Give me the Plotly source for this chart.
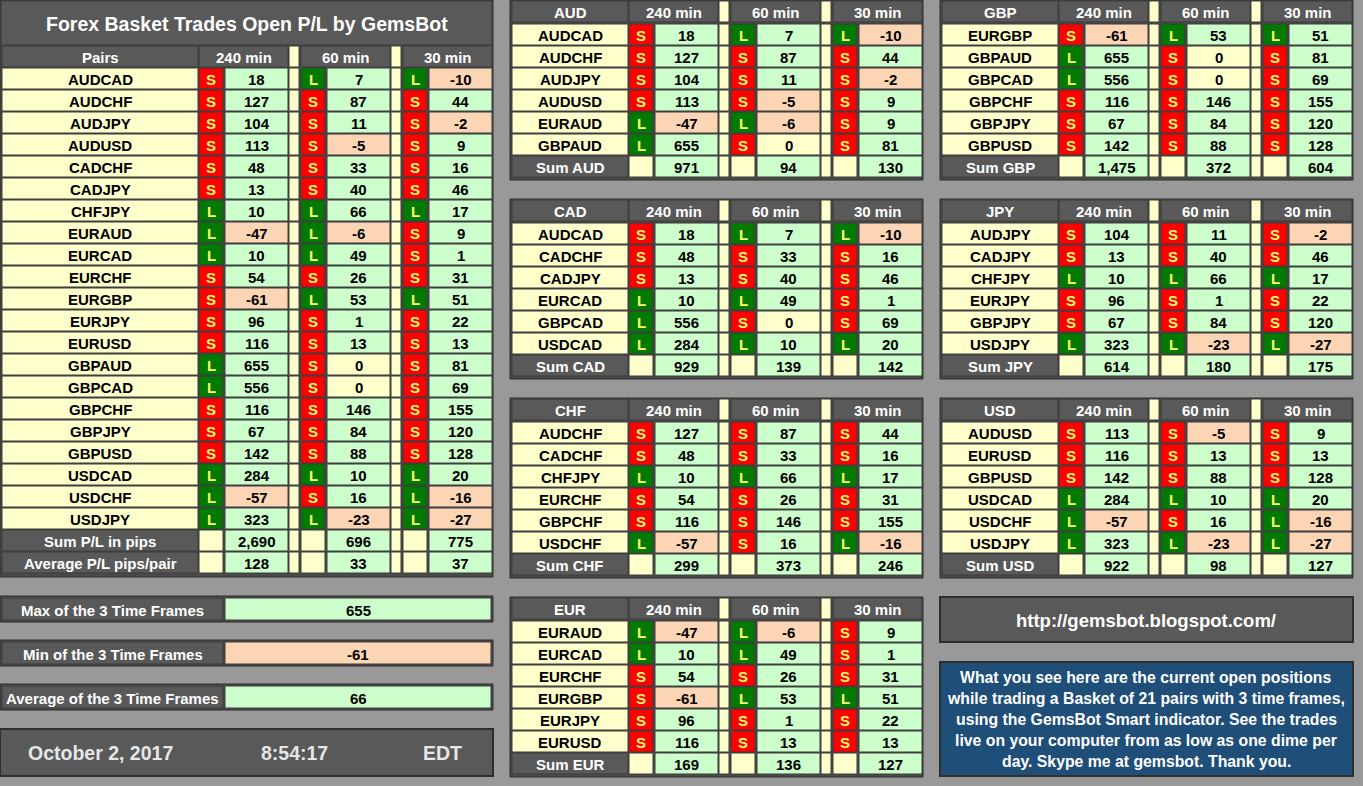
import plotly.graph_objects as go

pairs = ["AUDCAD","AUDCHF","AUDJPY","AUDUSD","CADCHF","CADJPY","CHFJPY","EURAUD","EURCAD","EURCHF",
         "EURGBP","EURJPY","EURUSD","GBPAUD","GBPCAD","GBPCHF","GBPJPY","GBPUSD","USDCAD","USDCHF","USDJPY"]
dir240 = ["S","S","S","S","S","S","L","L","L","S","S","S","S","L","L","S","S","S","L","L","L"]
val240 = [18,127,104,113,48,13,10,-47,10,54,-61,96,116,655,556,116,67,142,284,-57,323]
dir60  = ["L","S","S","S","S","S","L","L","L","S","L","S","S","S","S","S","S","S","L","S","L"]
val60  = [7,87,11,-5,33,40,66,-6,49,26,53,1,13,0,0,146,84,88,10,16,-23]
dir30  = ["L","S","S","S","S","S","L","S","S","S","L","S","S","S","S","S","S","S","L","L","L"]
val30  = [-10,44,-2,9,16,46,17,9,1,31,51,22,13,81,69,155,120,128,20,-16,-27]
sum_pl = ["2,690","696","775"]
avg_pl = [128,33,37]
max3, min3, avg3 = 655, -61, 66

currencies = ["AUD","CAD","CHF","EUR","GBP","JPY","USD"]
currency_sums = {
    "AUD": ["971","94","130"], "CAD": ["929","139","142"], "CHF": ["299","373","246"],
    "EUR": ["169","136","127"], "GBP": ["1,475","372","604"], "JPY": ["614","180","175"],
    "USD": ["922","98","127"],
}
currency_pairs = {
    "AUD": ["AUDCAD","AUDCHF","AUDJPY","AUDUSD","EURAUD","GBPAUD"],
    "CAD": ["AUDCAD","CADCHF","CADJPY","EURCAD","GBPCAD","USDCAD"],
    "CHF": ["AUDCHF","CADCHF","CHFJPY","EURCHF","GBPCHF","USDCHF"],
    "EUR": ["EURAUD","EURCAD","EURCHF","EURGBP","EURJPY","EURUSD"],
    "GBP": ["EURGBP","GBPAUD","GBPCAD","GBPCHF","GBPJPY","GBPUSD"],
    "JPY": ["AUDJPY","CADJPY","CHFJPY","EURJPY","GBPJPY","USDJPY"],
    "USD": ["AUDUSD","EURUSD","GBPUSD","USDCAD","USDCHF","USDJPY"],
}
frames = ["240 min","60 min","30 min"]

DARK="#595959"; YEL="#FFFFCC"; LG="#CCFFCC"; PE="#FCD5B4"; RED="#FF0000"; GRN="#007A00"
BORDER="#3c3c3c"; BG="#999999"
FONT="Liberation Sans"
FS=15

shapes=[]; ann=[]
def rect(x0,y0,x1,y1,fill,line=BORDER,w=1):
    shapes.append(dict(type="rect",xref="x",yref="y",x0=x0,y0=y0,x1=x1,y1=y1,fillcolor=fill,
                       line=dict(color=line,width=w),layer="above"))
def text(x,y,t,color="black",size=FS,bold=True):
    ann.append(dict(x=x,y=y,xref="x",yref="y",text=f"<b>{t}</b>" if bold else t,showarrow=False,
                    font=dict(family=FONT,size=size,color=color),xanchor="center",yanchor="middle"))
def cell(x0,y0,x1,y1,fill,t="",color="black",size=FS):
    rect(x0,y0,x1,y1,fill)
    if t!="": text((x0+x1)/2,(y0+y1)/2+1,t,color,size)
def valfill(v):
    return PE if v<0 else (YEL if v==0 else LG)

def panel(px, py, namew, header, rows, sumlabel, sums, hy, rowy):
    nend = px+namew
    cell(px+2,hy,nend,hy+21,DARK,header,"white")
    for g in range(3):
        gx=nend+g*102
        cell(gx+1,hy,gx+90,hy+21,DARK,frames[g],"white")
        if g<2: cell(gx+91,hy,gx+101,hy+21,YEL)
    allrows = rows+[(sumlabel,None)]
    for i,(nm,vals) in enumerate(allrows):
        y0=rowy+22*i; y1=y0+21
        if vals is None:
            cell(px+2,y0,nend,y1,DARK,nm,"white")
        else:
            cell(px+2,y0,nend,y1,YEL,nm)
        for g in range(3):
            gx=nend+g*102
            if vals is None:
                cell(gx+1,y0,gx+25,y1,YEL)
                cell(gx+27,y0,gx+90,y1,LG,sums[g])
            else:
                d,v=vals[g]
                cell(gx+1,y0,gx+25,y1,RED if d=="S" else GRN,d,"#FFFF66")
                cell(gx+27,y0,gx+90,y1,valfill(v),v)
            if g<2: cell(gx+91,y0,gx+101,y1,YEL)

idx={p:i for i,p in enumerate(pairs)}
def rowdata(p):
    i=idx[p]; return (p,[(dir240[i],val240[i]),(dir60[i],val60[i]),(dir30[i],val30[i])])

rect(0,0,493,577,"#4a4a4a","#2e2e2e",1)
cell(1,1,492,45,DARK,"Forex Basket Trades Open P/L by GemsBot","white",19.5)
panel(0,0,198,"Pairs",[rowdata(p) for p in pairs],"Sum P/L in pips",sum_pl,46,68)
y0=68+22*22; y1=y0+21
cell(2,y0,198,y1,DARK,"Average P/L pips/pair","white")
for g in range(3):
    gx=198+g*102
    cell(gx+1,y0,gx+25,y1,YEL); cell(gx+27,y0,gx+90,y1,LG,avg_pl[g])
    if g<2: cell(gx+91,y0,gx+101,y1,YEL)

for lab,v,yy in [("Max of the 3 Time Frames",max3,596),("Min of the 3 Time Frames",min3,640),("Average of the 3 Time Frames",avg3,684)]:
    rect(0,yy,493,yy+26,"#4a4a4a","#2e2e2e")
    cell(2,yy+2,223,yy+24,DARK,lab,"white")
    cell(225,yy+2,491,yy+24,valfill(v),v)
rect(0,729,493,776,DARK,"#2e2e2e",2)
for t,x in [("October 2, 2017",100),("8:54:17",294),("EDT",442)]:
    text(x,753,t,"#E6E6E6",19.5)

layout_pos = {"AUD":(510,0),"CAD":(510,199),"CHF":(510,398),"EUR":(510,597),
              "GBP":(940,0),"JPY":(940,199),"USD":(940,398)}
for c in currencies:
    px,py=layout_pos[c]
    rect(px,py,px+413,py+180,"#4a4a4a","#2e2e2e")
    panel(px,py,118,c,[rowdata(p) for p in currency_pairs[c]],"Sum "+c,currency_sums[c],py+1,py+24)

rect(940,597,1353,642,DARK,"#2e2e2e",2)
text(1146,620,"http://gemsbot.blogspot.com/","white",18.5)
rect(940,662,1353,776,"#1F4E79","#2e2e2e",2)
info=["What you see here are the current open positions","while trading a Basket of 21 pairs with 3 time frames,",
      "using the GemsBot Smart indicator. See the trades","live on your computer from as low as one dime per",
      "day. Skype me at gemsbot. Thank you."]
for i,l in enumerate(info):
    text(1146,677+21*i,l,"white",15.8)

fig=go.Figure(go.Scatter(x=[0,1363],y=[0,786],mode="markers",marker=dict(opacity=0),hoverinfo="skip"))
fig.update_layout(width=1363,height=786,margin=dict(l=0,r=0,t=0,b=0),plot_bgcolor=BG,paper_bgcolor=BG,
                  shapes=shapes,annotations=ann,showlegend=False,
                  xaxis=dict(range=[0,1363],visible=False,fixedrange=True),
                  yaxis=dict(range=[786,0],visible=False,fixedrange=True))
fig.write_html("out.html", config={"displayModeBar": False},
               post_script="document.body.style.margin='0';document.body.style.overflow='hidden';")
